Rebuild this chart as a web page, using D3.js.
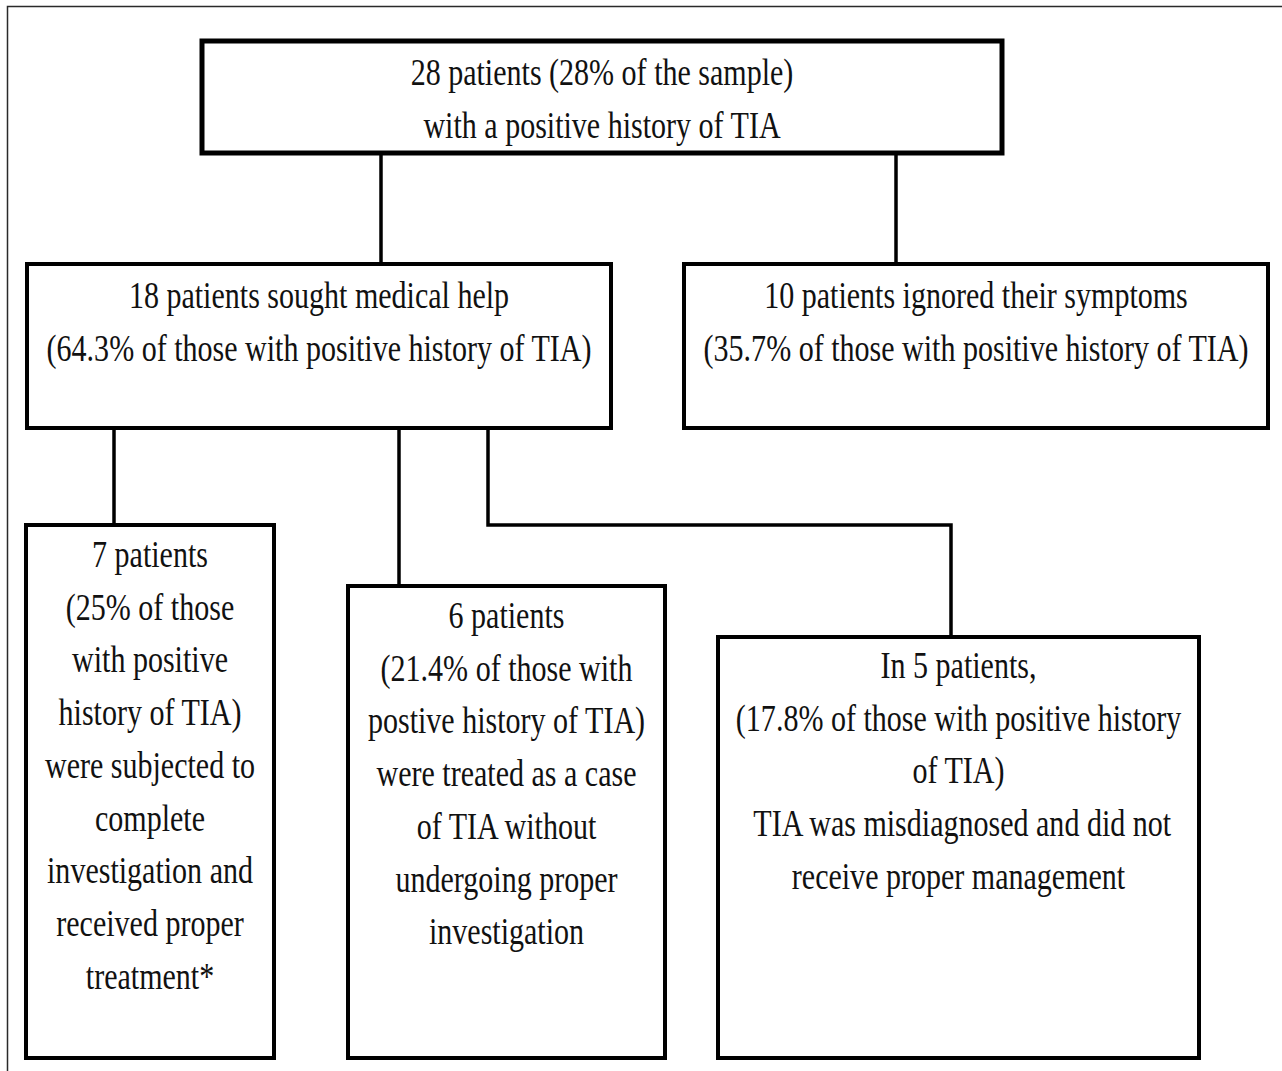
<!DOCTYPE html>
<html>
<head>
<meta charset="utf-8">
<script src="https://cdn.jsdelivr.net/npm/d3@7"></script>
<style>
  html, body { margin: 0; padding: 0; background: #fff; }
  svg { display: block; }
</style>
</head>
<body>
<script>
// ---- Data (text content of the flow diagram) ----
const nodeIds = ["total", "sought", "ignored", "proper", "treated", "misdiagnosed"];
const patientCounts = [28, 18, 10, 7, 6, 5];
const totalLines = ["28 patients (28% of the sample)", "with a positive history of TIA"];
const soughtLines = ["18 patients sought medical help", "(64.3% of those with positive history of TIA)"];
const ignoredLines = ["10 patients ignored their symptoms", "(35.7% of those with positive history of TIA)"];
const properLines = ["7 patients", "(25% of those", "with positive", "history of TIA)", "were subjected to", "complete", "investigation and", "received proper", "treatment*"];
const treatedLines = ["6 patients", "(21.4% of those with", "postive history of TIA)", "were treated as a case", "of TIA without", "undergoing proper", "investigation"];
const misdiagnosedLines = ["In 5 patients,", "(17.8% of those with positive history", "of TIA)", "\u00a0TIA was misdiagnosed and did not", "receive proper management"];
const links = [["total", "sought"], ["total", "ignored"], ["sought", "proper"], ["sought", "treated"], ["sought", "misdiagnosed"]];

// ---- Layout ----
const W = 1282, H = 1071;
const layout = {
  total:        { x: 202, y: 41,  w: 800, h: 112, sw: 5,   base: 85 },
  sought:       { x: 27,  y: 264, w: 584, h: 164, sw: 4,   base: 308 },
  ignored:      { x: 684, y: 264, w: 584, h: 164, sw: 4,   base: 308 },
  proper:       { x: 26,  y: 525, w: 248, h: 533, sw: 4,   base: 567 },
  treated:      { x: 348, y: 586, w: 317, h: 472, sw: 4,   base: 628 },
  misdiagnosed: { x: 718, y: 637, w: 481, h: 421, sw: 4,   base: 678 }
};
const linkX = {
  "total-sought": [381, 381],
  "total-ignored": [896, 896],
  "sought-proper": [114, 114],
  "sought-treated": [399, 399],
  "sought-misdiagnosed": [488, 951]
};
const elbowY = 525;
const lineH = 52.7, fontSize = 39, squeeze = 0.77;
const fontFamily = "'Liberation Serif', Tinos, 'Times New Roman', Times, 'DejaVu Serif', serif";

const linesById = {
  total: totalLines, sought: soughtLines, ignored: ignoredLines,
  proper: properLines, treated: treatedLines, misdiagnosed: misdiagnosedLines
};
const nodes = nodeIds.map((id, i) => ({ id, count: patientCounts[i], lines: linesById[id], ...layout[id] }));
const byId = Object.fromEntries(nodes.map(n => [n.id, n]));

const svg = d3.select("body").append("svg").attr("width", W).attr("height", H);
svg.append("rect").attr("width", W).attr("height", H).attr("fill", "#fff");

// outer frame (cropped on right and bottom)
svg.append("path")
  .attr("d", `M${W + 5},6.5 H7.5 V${H + 5}`)
  .attr("fill", "none").attr("stroke", "#2a2a2a").attr("stroke-width", 1.5);

// connectors
const lineGen = d3.line();
svg.append("g").selectAll("path").data(links).join("path")
  .attr("d", ([a, b]) => {
    const p = byId[a], c = byId[b];
    const [x1, x2] = linkX[a + "-" + b];
    const y1 = p.y + p.h, y2 = c.y;
    if (x1 === x2) return lineGen([[x1, y1], [x2, y2]]);
    return lineGen([[x1, y1], [x1, elbowY], [x2, elbowY], [x2, y2]]);
  })
  .attr("fill", "none").attr("stroke", "#000").attr("stroke-width", 3.5)
  .attr("stroke-linejoin", "miter");

// boxes
const g = svg.append("g").selectAll("g").data(nodes).join("g");
g.append("rect")
  .attr("x", d => d.x).attr("y", d => d.y)
  .attr("width", d => d.w).attr("height", d => d.h)
  .attr("fill", "#fff").attr("stroke", "#000")
  .attr("stroke-width", d => d.sw);

g.each(function (d) {
  const cx = d.x + d.w / 2;
  d3.select(this).selectAll("text").data(d.lines).join("text")
    .attr("transform", (t, i) => `translate(${cx},${d.base + i * lineH}) scale(${squeeze},1)`)
    .attr("text-anchor", "middle")
    .attr("font-family", fontFamily)
    .attr("font-size", fontSize)
    .attr("fill", "#111")
    .text(t => t);
});
</script>
</body>
</html>
